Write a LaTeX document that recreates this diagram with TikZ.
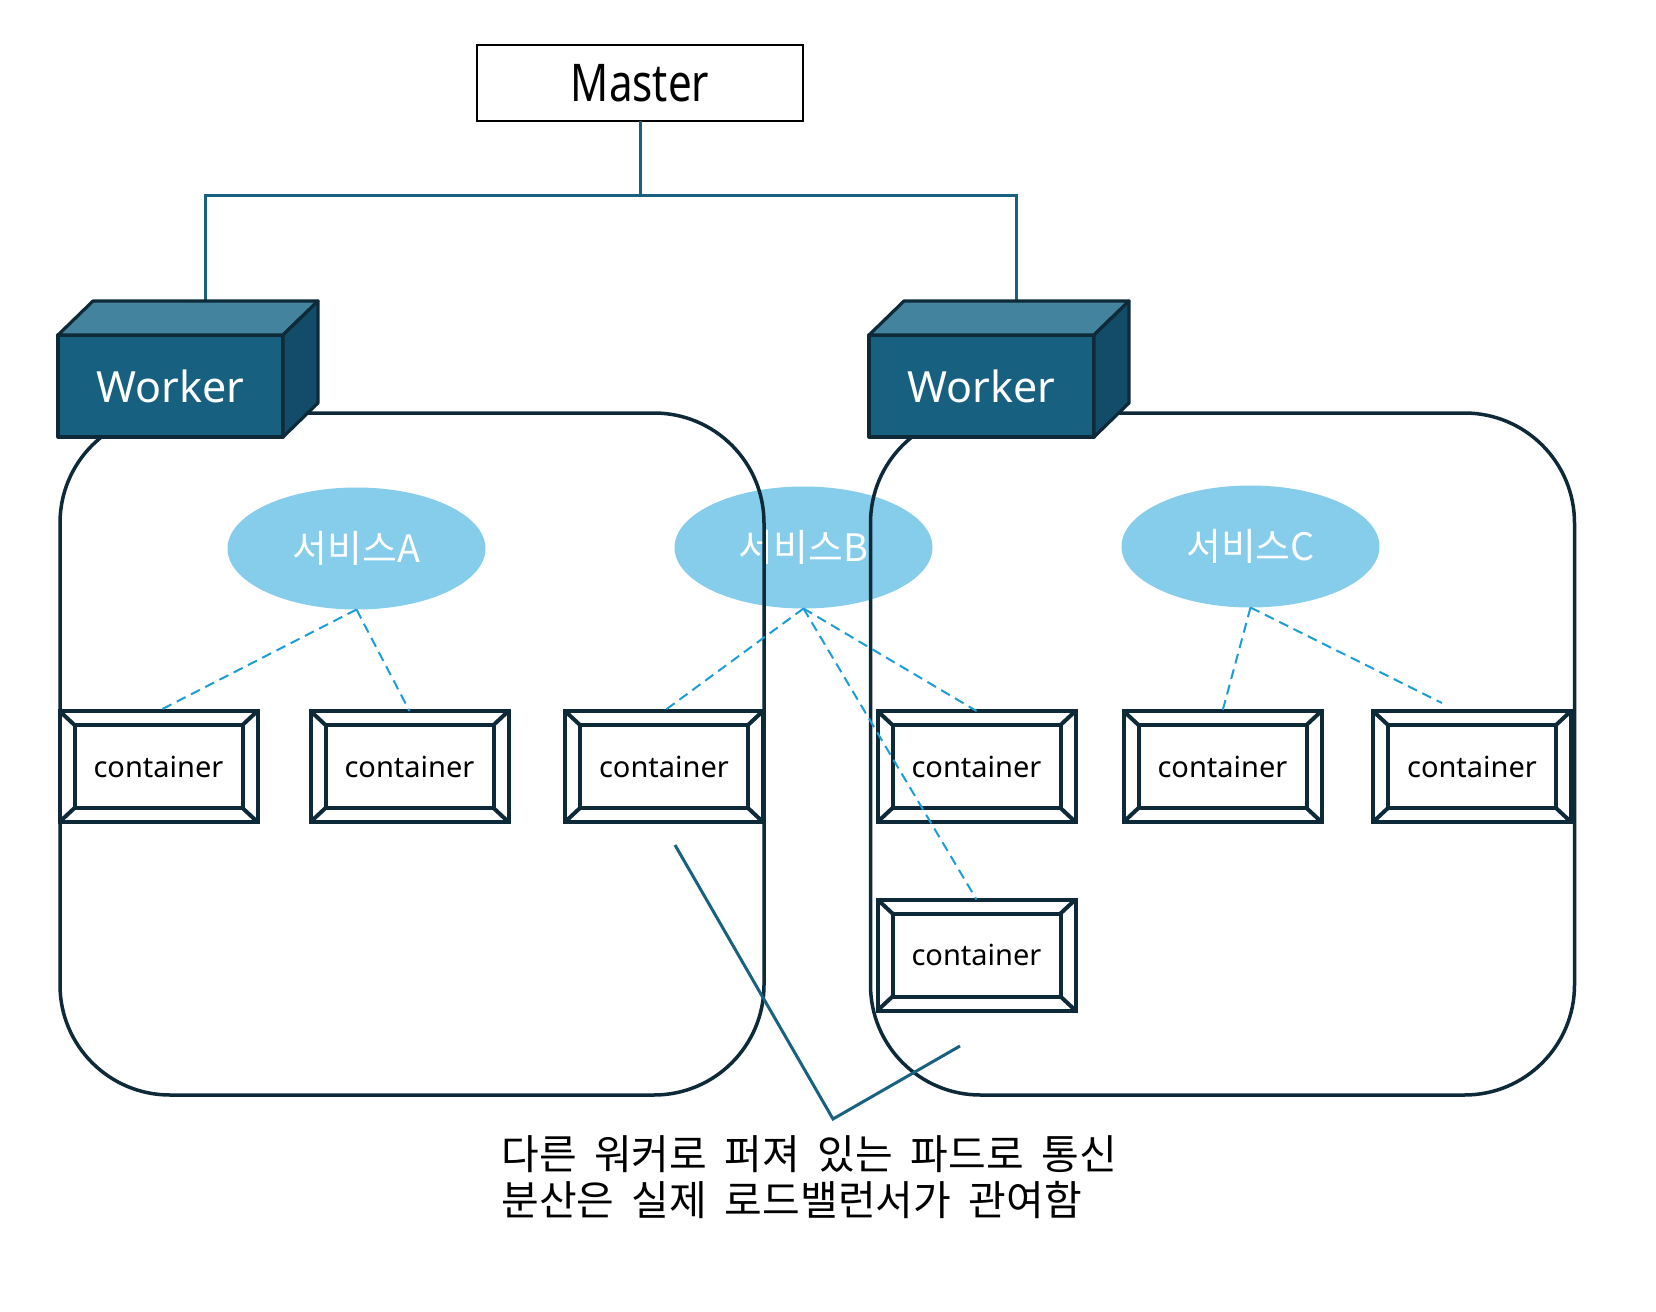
\documentclass[tikz,border=0pt]{standalone}
\usepackage{fontspec}
\setmainfont{Noto Sans}
\newfontfamily\kr{Noto Sans CJK KR}
\newfontfamily\krn[WordSpace=1.9]{Noto Sans CJK KR}
\newfontfamily\mst[FakeStretch=0.81]{Noto Sans}
\usetikzlibrary{calc,shapes.geometric}
\definecolor{dk}{RGB}{14,41,56}
\definecolor{wfront}{RGB}{23,96,127}
\definecolor{wtopc}{RGB}{68,131,158}
\definecolor{wsidec}{RGB}{19,76,104}
\definecolor{conncol}{RGB}{24,97,128}
\definecolor{svcfill}{RGB}{134,204,235}
\definecolor{dashcol}{RGB}{27,157,215}
\newcommand\ctrdeco[1]{%
  \draw[ctrline] ($(#1.north west)+(15,14)$) rectangle ($(#1.south east)+(-15,-14)$);
  \draw[ctrline] (#1.north west) -- ++(15,14) (#1.north east) -- ++(-15,14)
                 (#1.south west) -- ++(15,-14) (#1.south east) -- ++(-15,-14);}
\newcommand\workerdeco[1]{%
  \draw[wtopface] (#1.north west) -- ++(35,-34) -- ($(#1.north east)+(35,-34)$) -- (#1.north east) -- cycle;
  \draw[wsideface] (#1.north east) -- ++(35,-34) -- ($(#1.south east)+(35,-34)$) -- (#1.south east) -- cycle;}
\begin{document}
\begin{tikzpicture}[x=0.5pt,y=-0.5pt,
  pod/.style={draw=dk, line width=1.75pt, rounded corners=55pt, minimum width=352pt, minimum height=341pt, inner sep=0pt, outer sep=0pt},
  workerbox/.style={draw=dk, fill=wfront, line width=1.6pt, line join=round, minimum width=112.5pt, minimum height=51pt, inner sep=0pt, outer sep=0pt, text=white, font=\fontsize{21.5}{26}\selectfont},
  wtopface/.style={draw=dk, fill=wtopc, line width=1.6pt, line join=round},
  wsideface/.style={draw=dk, fill=wsidec, line width=1.6pt, line join=round},
  ctr/.style={draw=dk, fill=white, line width=2pt, minimum width=99pt, minimum height=55.5pt, inner sep=0pt, outer sep=0pt, font=\fontsize{14.5}{17}\selectfont},
  ctrline/.style={draw=dk, line width=2pt},
  svc/.style={ellipse, fill=svcfill, minimum width=129pt, minimum height=61pt, inner sep=0pt, outer sep=0pt, text=white, font=\kr\fontsize{18.9}{22}\selectfont},
  conn/.style={draw=conncol, line width=1.5pt},
  svcline/.style={draw=dashcol, line width=1pt, dash pattern=on 5pt off 3pt},
  masterbox/.style={draw=black, line width=0.7pt, minimum width=163pt, minimum height=38pt, inner sep=0pt, outer sep=0pt, font=\mst\fontsize{26}{30}\selectfont},
  note/.style={align=left, inner sep=0pt, font=\krn\fontsize{20.5}{23}\selectfont}
]
\useasboundingbox (0,0) rectangle (1656,1312);

% services
\node[svc] (SA) at (356.5,548.5) {서비스A};
\node[svc] (SB) at (803.5,547.5) {서비스B};
\node[svc] (SC) at (1250.5,546.5) {서비스C};

% pods
\node[pod] (R1) at (412,754) {};
\node[pod] (R2) at (1222.5,754) {};

% master
\node[masterbox] (M) at (640,83) {Master};

% workers
\node[workerbox] (W1) at (170.5,386) {Worker};
\node[workerbox] (W2) at (981.5,386) {Worker};
\coordinate (W1top) at ($(W1.north)+(35,-34)$);
\coordinate (W2top) at ($(W2.north)+(35,-34)$);
\coordinate (J) at ($(M.south)+(0,74)$);
\draw[conn] (M.south) -- (J);
\draw[conn] (W1top) |- (J) -| (W2top);
\workerdeco{W1}
\workerdeco{W2}

% containers
\node[ctr] (c1) at (158.5,766.5) {container};
\node[ctr] (c2) at (409.5,766.5) {container};
\node[ctr] (c3) at (664,766.5) {container};
\node[ctr] (c4) at (976.5,766.5) {container};
\node[ctr] (c5) at (1222.5,766.5) {container};
\node[ctr] (c6) at (1472,766.5) {container};
\node[ctr] (c7) at (976.5,955) {container};
\foreach \c in {c1,c2,c3,c4,c5,c6,c7}{\ctrdeco{\c}}

% service links
\coordinate (c6end) at (1442,703);
\draw[svcline] (SA.south) -- (c1.north);
\draw[svcline] (SA.south) -- (c2.north);
\draw[svcline] (SB.south) -- (c3.north);
\draw[svcline] (SB.south) -- (c4.north);
\draw[svcline] (SB.south) -- (c7.north);
\draw[svcline] (SC.south) -- (c5.north);
\draw[svcline] (SC.south) -- (c6end);

% callout
\coordinate (p1) at (675,845);
\coordinate (p2) at (833,1119);
\coordinate (p3) at (960,1046);
\draw[conn] (p1) -- (p2) -- (p3);
\node[note, anchor=west] (N) at (501,1177) {다른 워커로 퍼져 있는 파드로 통신\\분산은 실제 로드밸런서가 관여함};
\end{tikzpicture}
\end{document}
